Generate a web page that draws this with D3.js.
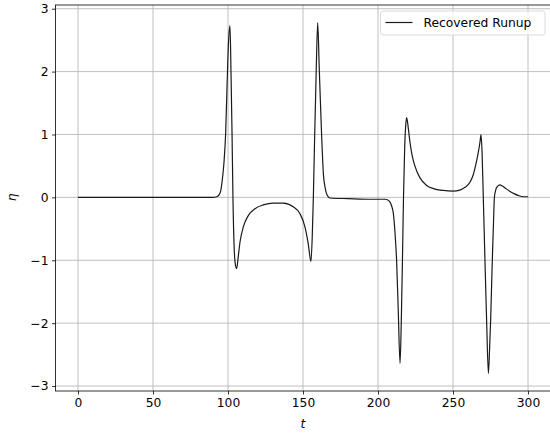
<!DOCTYPE html>
<html>
<head>
<meta charset="utf-8">
<script src="https://cdn.jsdelivr.net/npm/d3@7"></script>
<style>
  body { margin: 0; background: #fff; }
  text { font-family: "DejaVu Sans", sans-serif; }
</style>
</head>
<body>
<svg id="chart"></svg>
<script>
// recovered runup series
const tValues = [0, 30, 60, 90, 92.4, 94, 95.1, 96.2, 97.3, 98.4, 99.4, 100.4, 101.3, 102, 102.7, 103.3,
  104.2, 105, 105.8, 106.8, 108, 110.2, 113.5, 118, 123.5, 130, 137, 143.5, 148, 151.3, 153.5, 155.3,
  156.2, 156.9, 157.8, 158.8, 159.8, 160.9, 162.4, 163.6, 164.7, 166.2, 168, 180, 195, 205,
  207.5, 209, 210.2, 211.3, 212.4, 213.5, 214.7, 215.5, 216.3, 217, 217.8, 218.5, 219.1, 220.2,
  221.3, 222.5, 223.6, 225.8, 228, 232.4, 236.9, 243.5, 250, 255, 258, 261.3, 263.5, 265, 266.9,
  268, 268.7, 269.4, 270.2, 271.3, 272.4, 273.6, 274.4, 275.1, 276.2, 277, 277.6, 278.3, 279.1,
  281.3, 283, 285, 288, 291, 294, 297, 300];
const etaValues = [0, 0, 0, 0, 0.01, 0.04, 0.1, 0.28, 0.55, 1.0, 1.8, 2.5, 2.73, 2.0, 1.0, 0,
  -0.85, -1.08, -1.13, -0.95, -0.71, -0.47, -0.29, -0.18, -0.12, -0.09, -0.09, -0.15, -0.26, -0.47, -0.74, -1.02,
  -0.6, 0, 1.0, 2.0, 2.78, 2.0, 1.0, 0.37, 0.16, 0.03, -0.01, -0.02, -0.03, -0.03,
  -0.06, -0.13, -0.25, -0.55, -1.0, -1.8, -2.64, -2.0, -1.0, 0, 0.8, 1.15, 1.27, 1.1,
  0.88, 0.7, 0.58, 0.42, 0.31, 0.19, 0.14, 0.11, 0.1, 0.12, 0.16, 0.24, 0.36, 0.5, 0.72,
  0.88, 1.0, 0.7, 0, -1.0, -1.95, -2.8, -2.4, -1.95, -1.0, -0.4, 0, 0.1, 0.16,
  0.2, 0.18, 0.145, 0.095, 0.055, 0.025, 0.01, 0.01];
const xTicks = [0, 50, 100, 150, 200, 250, 300];
const yTicks = [-3, -2, -1, 0, 1, 2, 3];
const seriesName = "Recovered Runup";

const svgWidth = 550, svgHeight = 434;
const margin = {top: 5, right: -0.5, bottom: 43, left: 55.5},
    width = svgWidth - margin.left - margin.right,
    height = svgHeight - margin.top - margin.bottom;
const fontSize = "12.3px";

const chart = d3.select("#chart")
    .attr("width", svgWidth)
    .attr("height", svgHeight);

const inner = chart.append("g")
    .attr("transform", `translate(${margin.left},${margin.top})`);

const data = tValues.map((t, i) => ({t: t, eta: etaValues[i]}));

// matplotlib style 5% padding
const xScale = d3.scaleLinear().domain([-15, 315]).range([0, width]);
const yScale = d3.scaleLinear().domain([-3.079, 3.059]).range([height, 0]);

// grid
inner.append("g").selectAll("line.gx")
    .data(xTicks).enter().append("line")
    .attr("x1", d => xScale(d)).attr("x2", d => xScale(d))
    .attr("y1", 0).attr("y2", height)
    .attr("stroke", "#b0b0b0").attr("stroke-width", 0.8);
inner.append("g").selectAll("line.gy")
    .data(yTicks).enter().append("line")
    .attr("y1", d => yScale(d)).attr("y2", d => yScale(d))
    .attr("x1", 0).attr("x2", width)
    .attr("stroke", "#b0b0b0").attr("stroke-width", 0.8);

const line = d3.line()
    .x(d => xScale(d.t))
    .y(d => yScale(d.eta))
    .curve(d3.curveMonotoneX);

inner.append("path")
    .datum(data)
    .attr("d", line)
    .attr("fill", "none")
    .attr("stroke", "#1a1a1a")
    .attr("stroke-width", 1.2);

// axes
const xAxis = d3.axisBottom(xScale).tickValues(xTicks).tickSize(3.5).tickPadding(3.5)
    .tickFormat(d3.format("d"));
const yAxis = d3.axisLeft(yScale).tickValues(yTicks).tickSize(3.5).tickPadding(3.5)
    .tickFormat(d => d < 0 ? "\u2212" + Math.abs(d) : d);

const gx = inner.append("g").attr("transform", `translate(0,${height})`).call(xAxis);
const gy = inner.append("g").call(yAxis);
[gx, gy].forEach(g => {
    g.select(".domain").remove();
    g.selectAll(".tick line").attr("stroke", "#000").attr("stroke-width", 0.8);
    g.selectAll(".tick text").attr("fill", "#000").style("font-size", fontSize)
        .style("font-family", "DejaVu Sans, sans-serif");
});

// spines
inner.append("rect")
    .attr("x", 0).attr("y", 0).attr("width", width).attr("height", height)
    .attr("fill", "none").attr("stroke", "#000").attr("stroke-width", 0.8);

// labels
chart.append("text")
    .attr("x", margin.left + xScale(150))
    .attr("y", 428)
    .attr("text-anchor", "middle")
    .style("font-size", fontSize)
    .style("font-style", "italic")
    .text("t");

chart.append("text")
    .attr("transform", `translate(16,${margin.top + yScale(0)}) rotate(-90)`)
    .attr("text-anchor", "middle")
    .style("font-size", fontSize)
    .style("font-style", "italic")
    .text("\u03b7");

// legend
const legend = chart.append("g").attr("transform", "translate(380.5,11)");
legend.append("rect")
    .attr("width", 164.5).attr("height", 24).attr("rx", 2.5)
    .attr("fill", "#fff").attr("fill-opacity", 0.8)
    .attr("stroke", "#d0d0d0").attr("stroke-width", 0.8);
legend.append("line")
    .attr("x1", 5).attr("x2", 32).attr("y1", 11.5).attr("y2", 11.5)
    .attr("stroke", "#1a1a1a").attr("stroke-width", 1.2);
legend.append("text")
    .attr("x", 43).attr("y", 16)
    .style("font-size", fontSize)
    .text(seriesName);
</script>
</body>
</html>
